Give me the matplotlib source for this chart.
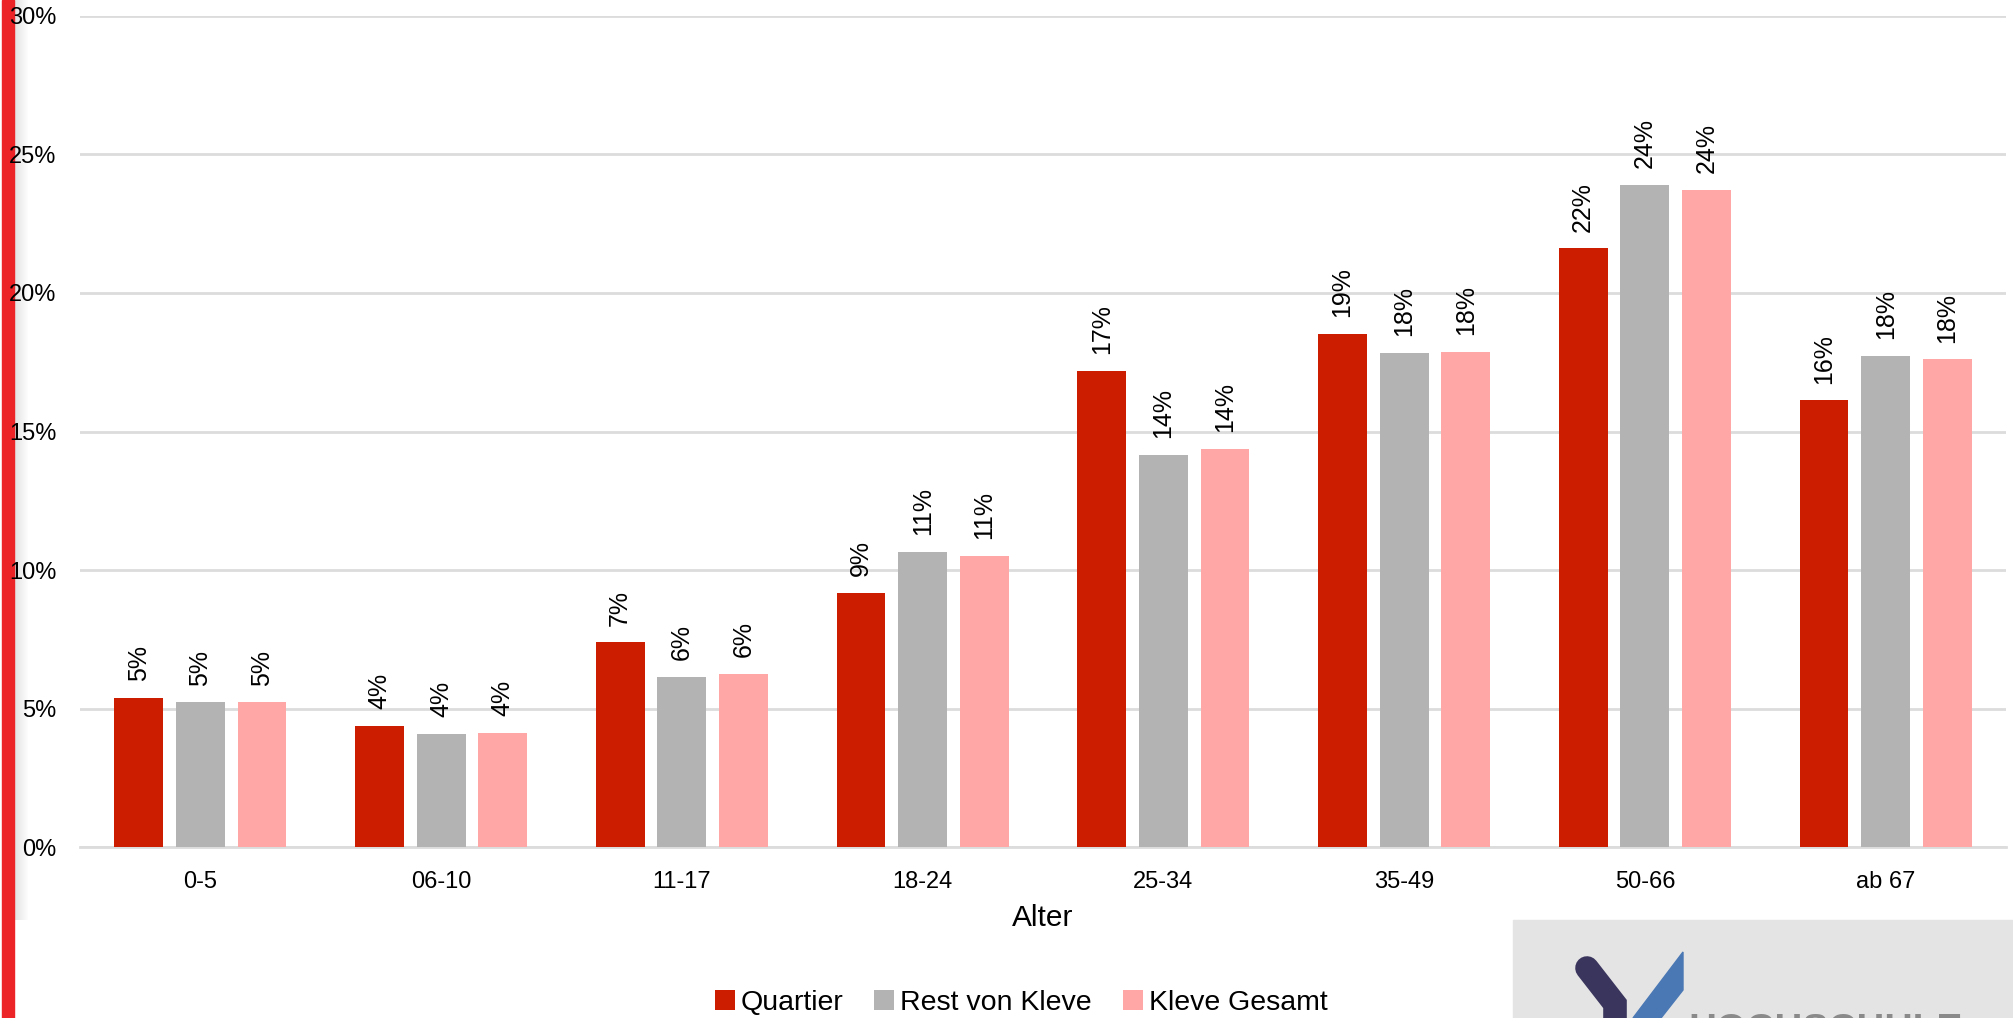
import numpy as np
import matplotlib.pyplot as plt
from matplotlib.patches import Rectangle, Polygon
from matplotlib.lines import Line2D

plt.rcParams['font.family'] = ['Liberation Sans', 'DejaVu Sans']

# Altersgruppen und Anteile (in %)
categories = ['0-5', '06-10', '11-17', '18-24', '25-34', '35-49', '50-66', 'ab 67']
quartier = [5.38, 4.38, 7.40, 9.17, 17.18, 18.52, 21.61, 16.12]
rest_kleve = [5.23, 4.10, 6.16, 10.65, 14.15, 17.83, 23.89, 17.72]
kleve_gesamt = [5.23, 4.12, 6.25, 10.51, 14.37, 17.87, 23.71, 17.60]
series_names = ['Quartier', 'Rest von Kleve', 'Kleve Gesamt']
y_ticks = [0, 5, 10, 15, 20, 25, 30]

colors = ['#cd1d00', '#b3b3b3', '#ffa6a6']

fig = plt.figure(figsize=(20.13, 10.18), dpi=100)
ax = fig.add_axes([80 / 2013, 1 - 847.3 / 1018, 1926 / 2013, 831.6 / 1018])

x = np.arange(len(categories))
offsets = [-0.256, 0, 0.256]
width = 0.203

for vals, off, col, name in zip([quartier, rest_kleve, kleve_gesamt], offsets, colors, series_names):
    bars = ax.bar(x + off, vals, width, color=col, label=name, zorder=3)
    for b, v in zip(bars, vals):
        ax.annotate(f'{round(v)}%', (b.get_x() + b.get_width() / 2, v),
                    xytext=(0, 12), textcoords='offset points',
                    rotation=90, ha='center', va='bottom', fontsize=18)

ax.set_xlim(-0.5, len(categories) - 0.5)
ax.set_ylim(0, 30)
ax.set_yticks(y_ticks)
ax.set_yticklabels([f'{t}%' for t in y_ticks])
ax.set_xticks(x)
ax.set_xticklabels(categories)
ax.tick_params(axis='both', length=0, labelsize=17)
ax.tick_params(axis='y', pad=17)
ax.tick_params(axis='x', pad=17)
ax.grid(axis='y', color='#dcdcdc', linewidth=2, zorder=0)
for s in ['top', 'right', 'left']:
    ax.spines[s].set_visible(False)
ax.spines['bottom'].set_color('#dcdcdc')
ax.spines['bottom'].set_linewidth(2)
ax.set_xlabel('Alter', fontsize=21.5, labelpad=8)

fig.legend(loc='center', bbox_to_anchor=(1021 / 2013, 1 - 1003 / 1018), ncol=3,
           frameon=False, fontsize=20.5, handlelength=0.7, handleheight=0.7,
           handletextpad=0.2, columnspacing=1.1)

# roter Rand links (hinter den Achsenbeschriftungen)
fig.patches.append(Rectangle((2 / 2013, 0), 12 / 2013, 1, transform=fig.transFigure,
                             color='#ec2327', zorder=-2))
for i in range(14):
    fig.patches.append(Rectangle(((14 + i) / 2013, 1 - 920 / 1018), 1 / 2013, 920 / 1018,
                                 transform=fig.transFigure, color='#dedede',
                                 alpha=0.9 * (1 - i / 14), lw=0, zorder=-3))

# Logo unten rechts
def fp(px, py):
    return (px / 2013, 1 - py / 1018)

fig.patches.append(Rectangle((1513 / 2013, 0), 500 / 2013, 98 / 1018, transform=fig.transFigure,
                             color='#e4e4e4', zorder=1))
(x0, y0), (x1, y1), (x2, y2) = fp(1587, 968), fp(1615, 1004), fp(1615, 1030)
fig.add_artist(Line2D([x0, x1, x2], [y0, y1, y2], transform=fig.transFigure, color='#3a355d',
                      linewidth=17, solid_capstyle='round', solid_joinstyle='miter', zorder=2))
fig.patches.append(Polygon([fp(1683, 952), fp(1683, 990), fp(1661, 1018), fp(1633, 1018)],
                           closed=True, transform=fig.transFigure, color='#4a78b4', zorder=2))
fig.text(1688 / 2013, 1 - 1013 / 1018, 'HOCHSCHULE', fontsize=28, color='#8a8a8a',
         va='top', ha='left', fontweight='bold')

fig.savefig('out.png', dpi=100, facecolor='white')
